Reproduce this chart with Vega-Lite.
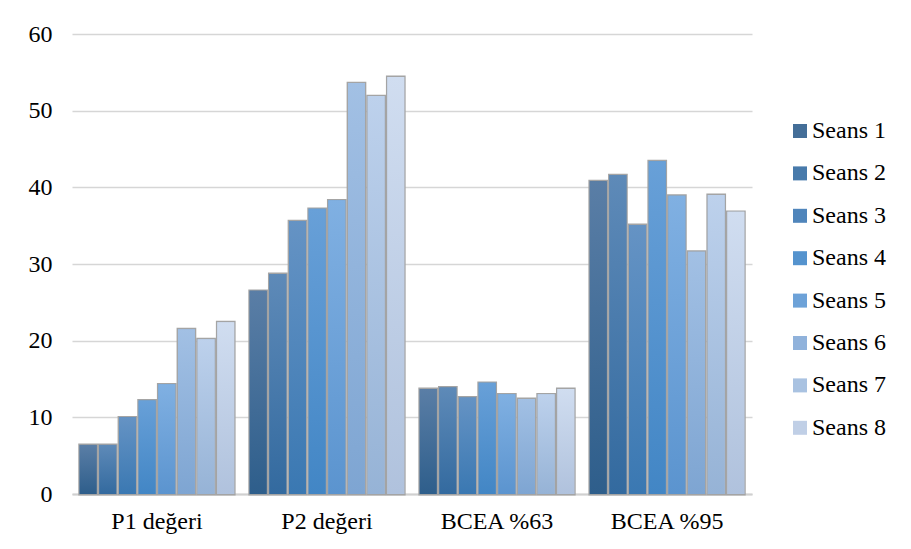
{
  "$schema": "https://vega.github.io/schema/vega-lite/v6.json",
  "width": 680,
  "height": 460,
  "autosize": {"type": "none"},
  "padding": {"left": 72, "top": 34, "right": 159, "bottom": 55},
  "background": "white",
  "data": {"values": [
    {"g": "P1 değeri", "s": "Seans 1", "v": 6.4},
    {"g": "P1 değeri", "s": "Seans 2", "v": 6.4},
    {"g": "P1 değeri", "s": "Seans 3", "v": 10.0},
    {"g": "P1 değeri", "s": "Seans 4", "v": 12.2},
    {"g": "P1 değeri", "s": "Seans 5", "v": 14.3},
    {"g": "P1 değeri", "s": "Seans 6", "v": 21.5},
    {"g": "P1 değeri", "s": "Seans 7", "v": 20.2},
    {"g": "P1 değeri", "s": "Seans 8", "v": 22.4},
    {"g": "P2 değeri", "s": "Seans 1", "v": 26.5},
    {"g": "P2 değeri", "s": "Seans 2", "v": 28.7},
    {"g": "P2 değeri", "s": "Seans 3", "v": 35.6},
    {"g": "P2 değeri", "s": "Seans 4", "v": 37.2},
    {"g": "P2 değeri", "s": "Seans 5", "v": 38.3},
    {"g": "P2 değeri", "s": "Seans 6", "v": 53.6},
    {"g": "P2 değeri", "s": "Seans 7", "v": 51.9},
    {"g": "P2 değeri", "s": "Seans 8", "v": 54.4},
    {"g": "BCEA %63", "s": "Seans 1", "v": 13.7},
    {"g": "BCEA %63", "s": "Seans 2", "v": 13.9},
    {"g": "BCEA %63", "s": "Seans 3", "v": 12.6},
    {"g": "BCEA %63", "s": "Seans 4", "v": 14.5},
    {"g": "BCEA %63", "s": "Seans 5", "v": 13.0},
    {"g": "BCEA %63", "s": "Seans 6", "v": 12.4},
    {"g": "BCEA %63", "s": "Seans 7", "v": 13.0},
    {"g": "BCEA %63", "s": "Seans 8", "v": 13.7},
    {"g": "BCEA %95", "s": "Seans 1", "v": 40.8},
    {"g": "BCEA %95", "s": "Seans 2", "v": 41.6},
    {"g": "BCEA %95", "s": "Seans 3", "v": 35.1},
    {"g": "BCEA %95", "s": "Seans 4", "v": 43.4},
    {"g": "BCEA %95", "s": "Seans 5", "v": 38.9},
    {"g": "BCEA %95", "s": "Seans 6", "v": 31.6},
    {"g": "BCEA %95", "s": "Seans 7", "v": 39.0},
    {"g": "BCEA %95", "s": "Seans 8", "v": 36.8}
  ]},
  "encoding": {
    "x": {
      "field": "g", "type": "nominal",
      "sort": ["P1 değeri", "P2 değeri", "BCEA %63", "BCEA %95"],
      "scale": {"paddingInner": 0.075, "paddingOuter": 0.037},
      "axis": {"title": null, "labelAngle": 0, "ticks": false, "domainColor": "#d0d0d0", "domainWidth": 2, "labelPadding": 15, "labelFont": "Liberation Serif", "labelFontSize": 24, "labelColor": "#000"}
    },
    "xOffset": {"field": "s", "type": "nominal", "scale": {"paddingInner": 0.14, "paddingOuter": 0.07}},
    "y": {
      "field": "v", "type": "quantitative",
      "scale": {"domain": [0, 60]},
      "axis": {"title": null, "values": [0, 10, 20, 30, 40, 50, 60], "domain": false, "ticks": false, "labelPadding": 20, "gridColor": "#d6d6d6", "gridWidth": 1.5, "labelFont": "Liberation Serif", "labelFontSize": 24, "labelColor": "#000"}
    }
  },
  "layer": [
    {
      "mark": {"type": "bar", "color": "#a4a4a4", "stroke": "#a4a4a4", "strokeWidth": 2.8, "strokeOpacity": 1}
    },
    {
      "mark": {"type": "bar"},
      "encoding": {
        "color": {
          "field": "s", "type": "nominal",
          "scale": {"range": ["#446e98", "#487aab", "#4f85bb", "#5593ce", "#6da2d8", "#90b2db", "#a9c2e1", "#c0cfe6"]},
          "legend": {"title": null, "orient": "none", "legendX": 716, "legendY": 85, "symbolType": "square", "symbolSize": 196, "symbolStrokeWidth": 0, "labelFont": "Liberation Serif", "labelFontSize": 24, "labelColor": "#000", "rowPadding": 18.4, "labelOffset": 0}
        }
      }
    },
    {"transform": [{"filter": "datum.s == 'Seans 1'"}], "mark": {"type": "bar", "color": {"gradient": "linear", "x1": 0, "y1": 0, "x2": 0, "y2": 1, "stops": [{"offset": 0, "color": "#5a7ea6"}, {"offset": 1, "color": "#2e5e8b"}]}}},
    {"transform": [{"filter": "datum.s == 'Seans 2'"}], "mark": {"type": "bar", "color": {"gradient": "linear", "x1": 0, "y1": 0, "x2": 0, "y2": 1, "stops": [{"offset": 0, "color": "#5e8ab8"}, {"offset": 1, "color": "#336a9f"}]}}},
    {"transform": [{"filter": "datum.s == 'Seans 3'"}], "mark": {"type": "bar", "color": {"gradient": "linear", "x1": 0, "y1": 0, "x2": 0, "y2": 1, "stops": [{"offset": 0, "color": "#6593c4"}, {"offset": 1, "color": "#3a78b2"}]}}},
    {"transform": [{"filter": "datum.s == 'Seans 4'"}], "mark": {"type": "bar", "color": {"gradient": "linear", "x1": 0, "y1": 0, "x2": 0, "y2": 1, "stops": [{"offset": 0, "color": "#68a0d8"}, {"offset": 1, "color": "#4286c5"}]}}},
    {"transform": [{"filter": "datum.s == 'Seans 5'"}], "mark": {"type": "bar", "color": {"gradient": "linear", "x1": 0, "y1": 0, "x2": 0, "y2": 1, "stops": [{"offset": 0, "color": "#80b0e2"}, {"offset": 1, "color": "#5b94cf"}]}}},
    {"transform": [{"filter": "datum.s == 'Seans 6'"}], "mark": {"type": "bar", "color": {"gradient": "linear", "x1": 0, "y1": 0, "x2": 0, "y2": 1, "stops": [{"offset": 0, "color": "#a2c0e4"}, {"offset": 1, "color": "#7ea5d2"}]}}},
    {"transform": [{"filter": "datum.s == 'Seans 7'"}], "mark": {"type": "bar", "color": {"gradient": "linear", "x1": 0, "y1": 0, "x2": 0, "y2": 1, "stops": [{"offset": 0, "color": "#bdd1ec"}, {"offset": 1, "color": "#96b3d6"}]}}},
    {"transform": [{"filter": "datum.s == 'Seans 8'"}], "mark": {"type": "bar", "color": {"gradient": "linear", "x1": 0, "y1": 0, "x2": 0, "y2": 1, "stops": [{"offset": 0, "color": "#d0ddf0"}, {"offset": 1, "color": "#b0c2dd"}]}}}
  ],
  "config": {"view": {"stroke": null}}
}
